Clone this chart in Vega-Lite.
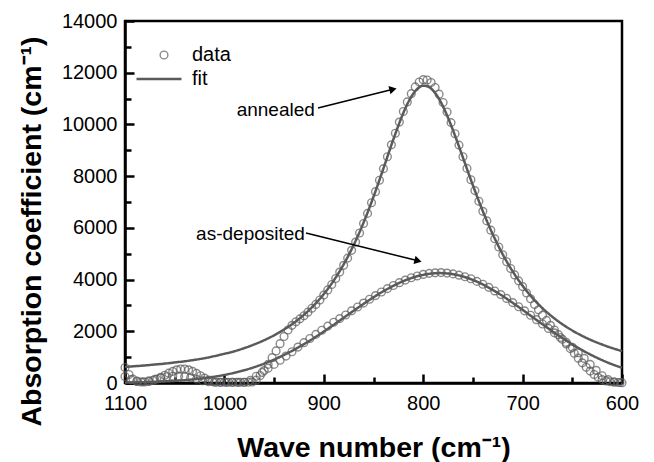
{
  "$schema": "https://vega.github.io/schema/vega-lite/v6.json",
  "width": 497,
  "height": 362,
  "autosize": {"type": "none"},
  "padding": {"left": 125, "top": 21, "right": 32, "bottom": 79},
  "background": "white",
  "config": {
    "view": {"stroke": "#000", "strokeWidth": 2.5},
    "axis": {
      "domainColor": "#000", "domainWidth": 2.5,
      "labelFont": "Liberation Sans", "labelFontSize": 20, "labelColor": "#000",
      "titleFont": "Liberation Sans", "titleFontSize": 28.5, "titleFontWeight": "bold", "titleColor": "#000",
      "grid": false
    }
  },
  "resolve": {"axis": {"x": "independent", "y": "independent"}},
  "datasets": {
    "pts": [
      {"x":1100,"y":600,"s":"annealed"},{"x":1096,"y":330,"s":"annealed"},{"x":1092,"y":150,"s":"annealed"},{"x":1088,"y":70,"s":"annealed"},{"x":1084,"y":40,"s":"annealed"},{"x":1080,"y":40,"s":"annealed"},{"x":1076,"y":60,"s":"annealed"},{"x":1072,"y":100,"s":"annealed"},{"x":1068,"y":150,"s":"annealed"},{"x":1064,"y":220,"s":"annealed"},{"x":1060,"y":300,"s":"annealed"},{"x":1056,"y":380,"s":"annealed"},{"x":1052,"y":450,"s":"annealed"},{"x":1048,"y":510,"s":"annealed"},{"x":1044,"y":540,"s":"annealed"},{"x":1040,"y":540,"s":"annealed"},{"x":1036,"y":510,"s":"annealed"},{"x":1032,"y":450,"s":"annealed"},{"x":1028,"y":370,"s":"annealed"},{"x":1024,"y":280,"s":"annealed"},{"x":1020,"y":190,"s":"annealed"},{"x":1016,"y":110,"s":"annealed"},{"x":1012,"y":60,"s":"annealed"},{"x":1008,"y":35,"s":"annealed"},{"x":1004,"y":30,"s":"annealed"},{"x":1000,"y":30,"s":"annealed"},{"x":996,"y":30,"s":"annealed"},{"x":992,"y":30,"s":"annealed"},{"x":988,"y":30,"s":"annealed"},{"x":984,"y":30,"s":"annealed"},{"x":980,"y":30,"s":"annealed"},{"x":976,"y":30,"s":"annealed"},{"x":972,"y":40,"s":"annealed"},{"x":968,"y":110,"s":"annealed"},{"x":964,"y":290,"s":"annealed"},{"x":960,"y":480,"s":"annealed"},{"x":956,"y":720,"s":"annealed"},{"x":952,"y":980,"s":"annealed"},{"x":948,"y":1240,"s":"annealed"},{"x":944,"y":1520,"s":"annealed"},{"x":940,"y":1800,"s":"annealed"},{"x":936,"y":2050,"s":"annealed"},{"x":932,"y":2230,"s":"annealed"},{"x":928,"y":2370,"s":"annealed"},{"x":924,"y":2480,"s":"annealed"},{"x":920,"y":2600,"s":"annealed"},{"x":916,"y":2740,"s":"annealed"},{"x":912,"y":2890,"s":"annealed"},{"x":908,"y":3040,"s":"annealed"},{"x":904,"y":3210,"s":"annealed"},{"x":900,"y":3400,"s":"annealed"},{"x":896,"y":3600,"s":"annealed"},{"x":892,"y":3810,"s":"annealed"},{"x":888,"y":4040,"s":"annealed"},{"x":884,"y":4290,"s":"annealed"},{"x":880,"y":4550,"s":"annealed"},{"x":876,"y":4830,"s":"annealed"},{"x":872,"y":5130,"s":"annealed"},{"x":868,"y":5450,"s":"annealed"},{"x":864,"y":5800,"s":"annealed"},{"x":860,"y":6170,"s":"annealed"},{"x":856,"y":6560,"s":"annealed"},{"x":852,"y":6970,"s":"annealed"},{"x":848,"y":7400,"s":"annealed"},{"x":844,"y":7840,"s":"annealed"},{"x":840,"y":8290,"s":"annealed"},{"x":836,"y":8750,"s":"annealed"},{"x":832,"y":9210,"s":"annealed"},{"x":828,"y":9660,"s":"annealed"},{"x":824,"y":10090,"s":"annealed"},{"x":820,"y":10500,"s":"annealed"},{"x":816,"y":10870,"s":"annealed"},{"x":812,"y":11190,"s":"annealed"},{"x":808,"y":11450,"s":"annealed"},{"x":804,"y":11640,"s":"annealed"},{"x":800,"y":11730,"s":"annealed"},{"x":796,"y":11720,"s":"annealed"},{"x":792,"y":11620,"s":"annealed"},{"x":788,"y":11430,"s":"annealed"},{"x":784,"y":11170,"s":"annealed"},{"x":780,"y":10850,"s":"annealed"},{"x":776,"y":10480,"s":"annealed"},{"x":772,"y":10070,"s":"annealed"},{"x":768,"y":9640,"s":"annealed"},{"x":764,"y":9200,"s":"annealed"},{"x":760,"y":8750,"s":"annealed"},{"x":756,"y":8300,"s":"annealed"},{"x":752,"y":7860,"s":"annealed"},{"x":748,"y":7440,"s":"annealed"},{"x":744,"y":7030,"s":"annealed"},{"x":740,"y":6640,"s":"annealed"},{"x":736,"y":6270,"s":"annealed"},{"x":732,"y":5910,"s":"annealed"},{"x":728,"y":5580,"s":"annealed"},{"x":724,"y":5260,"s":"annealed"},{"x":720,"y":4960,"s":"annealed"},{"x":716,"y":4690,"s":"annealed"},{"x":712,"y":4430,"s":"annealed"},{"x":708,"y":4180,"s":"annealed"},{"x":704,"y":3950,"s":"annealed"},{"x":700,"y":3730,"s":"annealed"},{"x":696,"y":3480,"s":"annealed"},{"x":692,"y":3260,"s":"annealed"},{"x":688,"y":3040,"s":"annealed"},{"x":684,"y":2830,"s":"annealed"},{"x":680,"y":2620,"s":"annealed"},{"x":676,"y":2420,"s":"annealed"},{"x":672,"y":2230,"s":"annealed"},{"x":668,"y":2050,"s":"annealed"},{"x":664,"y":1870,"s":"annealed"},{"x":660,"y":1690,"s":"annealed"},{"x":656,"y":1510,"s":"annealed"},{"x":652,"y":1330,"s":"annealed"},{"x":648,"y":1150,"s":"annealed"},{"x":644,"y":960,"s":"annealed"},{"x":640,"y":780,"s":"annealed"},{"x":636,"y":610,"s":"annealed"},{"x":632,"y":460,"s":"annealed"},{"x":628,"y":330,"s":"annealed"},{"x":624,"y":220,"s":"annealed"},{"x":620,"y":130,"s":"annealed"},{"x":616,"y":80,"s":"annealed"},{"x":612,"y":50,"s":"annealed"},{"x":608,"y":30,"s":"annealed"},{"x":604,"y":20,"s":"annealed"},{"x":600,"y":10,"s":"annealed"},
      {"x":1100,"y":250,"s":"as-deposited"},{"x":1094,"y":130,"s":"as-deposited"},{"x":1088,"y":60,"s":"as-deposited"},{"x":1082,"y":50,"s":"as-deposited"},{"x":1076,"y":80,"s":"as-deposited"},{"x":1070,"y":140,"s":"as-deposited"},{"x":1064,"y":200,"s":"as-deposited"},{"x":1058,"y":240,"s":"as-deposited"},{"x":1052,"y":260,"s":"as-deposited"},{"x":1046,"y":260,"s":"as-deposited"},{"x":1040,"y":240,"s":"as-deposited"},{"x":1034,"y":200,"s":"as-deposited"},{"x":1028,"y":150,"s":"as-deposited"},{"x":1022,"y":90,"s":"as-deposited"},{"x":1016,"y":50,"s":"as-deposited"},{"x":1010,"y":30,"s":"as-deposited"},{"x":1004,"y":25,"s":"as-deposited"},{"x":998,"y":25,"s":"as-deposited"},{"x":992,"y":25,"s":"as-deposited"},{"x":986,"y":25,"s":"as-deposited"},{"x":980,"y":30,"s":"as-deposited"},{"x":974,"y":100,"s":"as-deposited"},{"x":968,"y":260,"s":"as-deposited"},{"x":962,"y":410,"s":"as-deposited"},{"x":956,"y":570,"s":"as-deposited"},{"x":950,"y":720,"s":"as-deposited"},{"x":944,"y":880,"s":"as-deposited"},{"x":938,"y":1040,"s":"as-deposited"},{"x":932,"y":1210,"s":"as-deposited"},{"x":926,"y":1390,"s":"as-deposited"},{"x":920,"y":1560,"s":"as-deposited"},{"x":914,"y":1720,"s":"as-deposited"},{"x":908,"y":1880,"s":"as-deposited"},{"x":902,"y":2040,"s":"as-deposited"},{"x":896,"y":2200,"s":"as-deposited"},{"x":890,"y":2350,"s":"as-deposited"},{"x":884,"y":2490,"s":"as-deposited"},{"x":878,"y":2630,"s":"as-deposited"},{"x":872,"y":2790,"s":"as-deposited"},{"x":866,"y":2940,"s":"as-deposited"},{"x":860,"y":3090,"s":"as-deposited"},{"x":854,"y":3240,"s":"as-deposited"},{"x":848,"y":3380,"s":"as-deposited"},{"x":842,"y":3520,"s":"as-deposited"},{"x":836,"y":3650,"s":"as-deposited"},{"x":830,"y":3770,"s":"as-deposited"},{"x":824,"y":3880,"s":"as-deposited"},{"x":818,"y":3980,"s":"as-deposited"},{"x":812,"y":4070,"s":"as-deposited"},{"x":806,"y":4140,"s":"as-deposited"},{"x":800,"y":4200,"s":"as-deposited"},{"x":794,"y":4240,"s":"as-deposited"},{"x":788,"y":4260,"s":"as-deposited"},{"x":782,"y":4270,"s":"as-deposited"},{"x":776,"y":4250,"s":"as-deposited"},{"x":770,"y":4220,"s":"as-deposited"},{"x":764,"y":4170,"s":"as-deposited"},{"x":758,"y":4110,"s":"as-deposited"},{"x":752,"y":4030,"s":"as-deposited"},{"x":746,"y":3930,"s":"as-deposited"},{"x":740,"y":3820,"s":"as-deposited"},{"x":734,"y":3700,"s":"as-deposited"},{"x":728,"y":3560,"s":"as-deposited"},{"x":722,"y":3420,"s":"as-deposited"},{"x":716,"y":3270,"s":"as-deposited"},{"x":710,"y":3110,"s":"as-deposited"},{"x":704,"y":2950,"s":"as-deposited"},{"x":698,"y":2790,"s":"as-deposited"},{"x":692,"y":2620,"s":"as-deposited"},{"x":686,"y":2450,"s":"as-deposited"},{"x":680,"y":2280,"s":"as-deposited"},{"x":674,"y":2110,"s":"as-deposited"},{"x":668,"y":1940,"s":"as-deposited"},{"x":662,"y":1760,"s":"as-deposited"},{"x":656,"y":1570,"s":"as-deposited"},{"x":650,"y":1380,"s":"as-deposited"},{"x":644,"y":1170,"s":"as-deposited"},{"x":638,"y":950,"s":"as-deposited"},{"x":632,"y":720,"s":"as-deposited"},{"x":626,"y":490,"s":"as-deposited"},{"x":620,"y":280,"s":"as-deposited"},{"x":614,"y":130,"s":"as-deposited"},{"x":608,"y":50,"s":"as-deposited"},{"x":602,"y":20,"s":"as-deposited"}
    ],
    "fits": [
      {"x":1100,"y":620,"s":"annealed"},{"x":1090,"y":650,"s":"annealed"},{"x":1080,"y":680,"s":"annealed"},{"x":1070,"y":715,"s":"annealed"},{"x":1060,"y":750,"s":"annealed"},{"x":1050,"y":795,"s":"annealed"},{"x":1040,"y":840,"s":"annealed"},{"x":1030,"y":895,"s":"annealed"},{"x":1020,"y":960,"s":"annealed"},{"x":1010,"y":1040,"s":"annealed"},{"x":1000,"y":1130,"s":"annealed"},{"x":990,"y":1227,"s":"annealed"},{"x":980,"y":1350,"s":"annealed"},{"x":970,"y":1491,"s":"annealed"},{"x":960,"y":1655,"s":"annealed"},{"x":950,"y":1845,"s":"annealed"},{"x":940,"y":2067,"s":"annealed"},{"x":930,"y":2328,"s":"annealed"},{"x":920,"y":2637,"s":"annealed"},{"x":910,"y":3003,"s":"annealed"},{"x":900,"y":3441,"s":"annealed"},{"x":890,"y":3964,"s":"annealed"},{"x":880,"y":4589,"s":"annealed"},{"x":870,"y":5331,"s":"annealed"},{"x":860,"y":6202,"s":"annealed"},{"x":850,"y":7201,"s":"annealed"},{"x":840,"y":8298,"s":"annealed"},{"x":830,"y":9422,"s":"annealed"},{"x":820,"y":10443,"s":"annealed"},{"x":816,"y":10785,"s":"annealed"},{"x":812,"y":11070,"s":"annealed"},{"x":808,"y":11290,"s":"annealed"},{"x":804,"y":11435,"s":"annealed"},{"x":800,"y":11497,"s":"annealed"},{"x":796,"y":11478,"s":"annealed"},{"x":792,"y":11383,"s":"annealed"},{"x":788,"y":11215,"s":"annealed"},{"x":784,"y":10981,"s":"annealed"},{"x":780,"y":10690,"s":"annealed"},{"x":776,"y":10350,"s":"annealed"},{"x":772,"y":9973,"s":"annealed"},{"x":768,"y":9569,"s":"annealed"},{"x":764,"y":9147,"s":"annealed"},{"x":760,"y":8715,"s":"annealed"},{"x":750,"y":7646,"s":"annealed"},{"x":740,"y":6643,"s":"annealed"},{"x":730,"y":5750,"s":"annealed"},{"x":720,"y":4976,"s":"annealed"},{"x":710,"y":4317,"s":"annealed"},{"x":700,"y":3760,"s":"annealed"},{"x":690,"y":3290,"s":"annealed"},{"x":680,"y":2893,"s":"annealed"},{"x":670,"y":2558,"s":"annealed"},{"x":660,"y":2274,"s":"annealed"},{"x":650,"y":2031,"s":"annealed"},{"x":640,"y":1822,"s":"annealed"},{"x":630,"y":1643,"s":"annealed"},{"x":620,"y":1488,"s":"annealed"},{"x":610,"y":1353,"s":"annealed"},{"x":600,"y":1234,"s":"annealed"},
      {"x":1100,"y":16,"s":"as-deposited"},{"x":1090,"y":23,"s":"as-deposited"},{"x":1080,"y":32,"s":"as-deposited"},{"x":1070,"y":44,"s":"as-deposited"},{"x":1060,"y":61,"s":"as-deposited"},{"x":1050,"y":82,"s":"as-deposited"},{"x":1040,"y":109,"s":"as-deposited"},{"x":1030,"y":145,"s":"as-deposited"},{"x":1020,"y":189,"s":"as-deposited"},{"x":1010,"y":245,"s":"as-deposited"},{"x":1000,"y":313,"s":"as-deposited"},{"x":990,"y":396,"s":"as-deposited"},{"x":980,"y":495,"s":"as-deposited"},{"x":970,"y":612,"s":"as-deposited"},{"x":960,"y":749,"s":"as-deposited"},{"x":950,"y":907,"s":"as-deposited"},{"x":940,"y":1085,"s":"as-deposited"},{"x":930,"y":1284,"s":"as-deposited"},{"x":920,"y":1502,"s":"as-deposited"},{"x":910,"y":1739,"s":"as-deposited"},{"x":900,"y":1991,"s":"as-deposited"},{"x":890,"y":2254,"s":"as-deposited"},{"x":880,"y":2524,"s":"as-deposited"},{"x":870,"y":2794,"s":"as-deposited"},{"x":860,"y":3060,"s":"as-deposited"},{"x":850,"y":3314,"s":"as-deposited"},{"x":840,"y":3550,"s":"as-deposited"},{"x":830,"y":3760,"s":"as-deposited"},{"x":820,"y":3940,"s":"as-deposited"},{"x":810,"y":4082,"s":"as-deposited"},{"x":800,"y":4182,"s":"as-deposited"},{"x":790,"y":4239,"s":"as-deposited"},{"x":783,"y":4250,"s":"as-deposited"},{"x":770,"y":4208,"s":"as-deposited"},{"x":760,"y":4119,"s":"as-deposited"},{"x":750,"y":3985,"s":"as-deposited"},{"x":740,"y":3810,"s":"as-deposited"},{"x":730,"y":3600,"s":"as-deposited"},{"x":720,"y":3362,"s":"as-deposited"},{"x":710,"y":3102,"s":"as-deposited"},{"x":700,"y":2829,"s":"as-deposited"},{"x":690,"y":2550,"s":"as-deposited"},{"x":680,"y":2271,"s":"as-deposited"},{"x":670,"y":1999,"s":"as-deposited"},{"x":660,"y":1739,"s":"as-deposited"},{"x":650,"y":1495,"s":"as-deposited"},{"x":640,"y":1270,"s":"as-deposited"},{"x":630,"y":1066,"s":"as-deposited"},{"x":620,"y":885,"s":"as-deposited"},{"x":610,"y":725,"s":"as-deposited"},{"x":600,"y":588,"s":"as-deposited"}
    ],
    "notes": [
      {"x":909,"y":10560,"t":"annealed"},
      {"x":919,"y":5762,"t":"as-deposited"}
    ],
    "arrows": [
      {"x":905.8,"y":10635,"x2":830.4,"y2":11359,"t":"annealed"},
      {"x":917.9,"y":5801,"x2":805.2,"y2":4726,"t":"as-deposited"}
    ]
  },
  "layer": [
    {
      "data": {"name": "pts"},
      "mark": {"type": "point", "filled": false, "color": "#5a5a5a", "strokeWidth": 1.4, "size": 60, "clip": false},
      "encoding": {
        "x": {"field": "x", "type": "quantitative",
          "scale": {"domain": [600, 1100], "reverse": true, "nice": false, "zero": false},
          "axis": {
            "orient": "bottom",
            "values": [1100,1000,900,800,700,600],
            "format": "d",
            "ticks": false,
            "labelPadding": 10,
            "labelFlush": false,
            "labelOverlap": false,
            "title": "Wave number (cm⁻¹)",
            "titleY": 73,
            "titleBaseline": "alphabetic"
          }
        },
        "y": {"field": "y", "type": "quantitative",
          "scale": {"domain": [0, 14000], "nice": false},
          "axis": {
            "orient": "left",
            "values": [0,2000,4000,6000,8000,10000,12000,14000],
            "format": "d",
            "ticks": false,
            "labelPadding": 8,
            "labelFlush": false,
            "labelOverlap": false,
            "title": "Absorption coefficient (cm⁻¹)",
            "titleX": -85,
            "titleY": 210,
            "titleAngle": -90,
            "titleAlign": "center",
            "titleBaseline": "alphabetic"
          }
        },
        "shape": {"datum": "data", "type": "nominal",
          "scale": {"domain": ["data"], "range": ["circle"]},
          "legend": {"orient": "none", "legendX": 29, "legendY": 24, "title": null, "padding": 0,
            "symbolType": "circle", "symbolSize": 60, "symbolStrokeColor": "#5a5a5a", "symbolFillColor": "transparent", "symbolStrokeWidth": 1.4,
            "labelFont": "Liberation Sans", "labelFontSize": 20, "labelColor": "#000", "labelOffset": 18}
        }
      }
    },
    {
      "data": {"name": "fits"},
      "mark": {"type": "line", "color": "#5a5a5a", "strokeWidth": 2.5, "interpolate": "monotone"},
      "encoding": {
        "x": {"field": "x", "type": "quantitative", "axis": null},
        "y": {"field": "y", "type": "quantitative", "axis": null},
        "detail": {"field": "s"},
        "strokeDash": {"datum": "fit", "type": "nominal",
          "scale": {"domain": ["fit"], "range": [[1, 0]]},
          "legend": {"orient": "none", "legendX": 10, "legendY": 34, "title": null, "padding": 0,
            "symbolType": "stroke", "symbolSize": 2025, "symbolStrokeColor": "#5a5a5a", "symbolStrokeWidth": 2.5,
            "labelFont": "Liberation Sans", "labelFontSize": 20, "labelColor": "#000", "labelOffset": 9}
        }
      }
    },
    {
      "data": {"name": "arrows"},
      "mark": {"type": "point", "shape": "triangle-right", "filled": true, "color": "#000", "size": 70, "opacity": 1},
      "encoding": {
        "x": {"field": "x2", "type": "quantitative", "axis": null},
        "y": {"field": "y2", "type": "quantitative", "axis": null},
        "angle": {"field": "t", "type": "nominal", "scale": {"domain": ["annealed", "as-deposited"], "range": [346, 14]}, "legend": null}
      }
    },
    {
      "data": {"name": "notes"},
      "mark": {"type": "text", "align": "right", "baseline": "middle", "font": "Liberation Sans", "fontSize": 19, "color": "#000"},
      "encoding": {
        "x": {"field": "x", "type": "quantitative", "axis": null},
        "y": {"field": "y", "type": "quantitative", "axis": null},
        "text": {"field": "t"}
      }
    },
    {
      "data": {"name": "arrows"},
      "mark": {"type": "rule", "color": "#000", "strokeWidth": 1.5},
      "encoding": {
        "x": {"field": "x", "type": "quantitative",
          "axis": {"orient": "top", "offset": -362, "values": [1100,1050,1000,950,900,850,800,750,700,650,600], "tickSize": 9, "tickColor": "#000", "tickWidth": 2.5,
            "tickDash": {"condition": {"test": "datum.value % 100 !== 0", "value": [6, 30]}, "value": [30, 0]},
            "labels": false, "domain": false, "title": null}
        },
        "y": {"field": "y", "type": "quantitative",
          "axis": {"orient": "right", "offset": -497, "values": [0,1000,2000,3000,4000,5000,6000,7000,8000,9000,10000,11000,12000,13000,14000], "tickSize": 9, "tickColor": "#000", "tickWidth": 2.5,
            "tickDash": {"condition": {"test": "datum.value % 2000 !== 0", "value": [6, 30]}, "value": [30, 0]},
            "labels": false, "domain": false, "title": null}
        },
        "x2": {"field": "x2"},
        "y2": {"field": "y2"}
      }
    }
  ]
}
